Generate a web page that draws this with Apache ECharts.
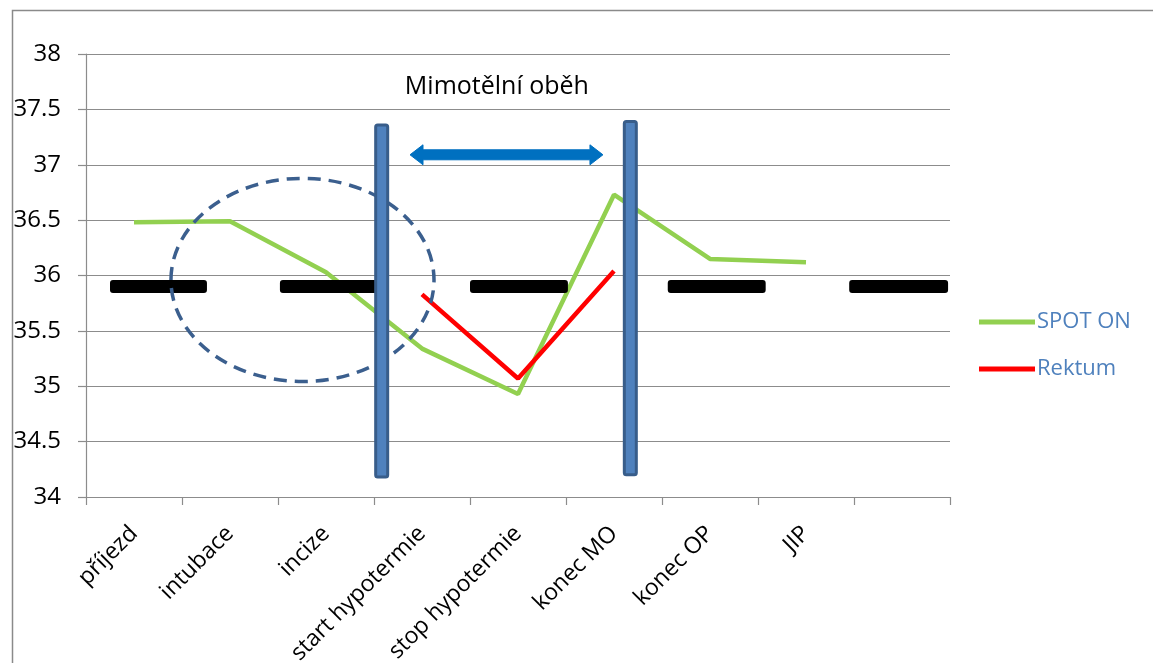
<!DOCTYPE html>
<html>
<head>
<meta charset="utf-8">
<script src="https://cdn.jsdelivr.net/npm/echarts@6/dist/echarts.min.js"></script>
<style>
  html, body { margin: 0; padding: 0; background: #fff; }
  #chart { width: 1153px; height: 663px; }
</style>
</head>
<body>
<div id="chart"></div>
<script>
// Time points of the procedure
const categories = ['příjezd', 'intubace', 'incize', 'start hypotermie', 'stop hypotermie', 'konec MO', 'konec OP', 'JIP', ''];

// Temperatures (°C)
const spotOn = [36.48, 36.49, 36.03, 35.34, 34.93, 36.73, 36.15, 36.12, null];
const rektum = [null, null, null, 35.83, 35.07, 36.04, null, null, null];

// Y axis range
const yMin = 34;
const yMax = 38;
const yStep = 0.5;

// Reference level segments, in category units [from, to]
const refLevel = 35.9;
const refSegments = [[0.25, 1.26], [2.02, 3.04], [4.0, 5.02], [6.06, 7.08], [7.95, 8.98]];

// Start / end of extracorporeal circulation markers [x, bottom, top]
const phaseMarkers = [[3.08, 34.18, 37.36], [5.67, 34.20, 37.39]];

// Span arrow [from, to, level] and its caption
const bypassSpan = [[3.375, 5.385, 37.09]];
const bypassCaption = [[4.28, 37.70, 'Mimotělní oběh']];

// Highlighted region [cx, cy, rx, ry]
const highlight = [[2.255, 35.96, 1.37, 0.917]];

const FONT = '"Open Sans", "Noto Sans", sans-serif';
const GRID_COLOR = '#8c8c8c';

const chart = echarts.init(document.getElementById('chart'), null, { renderer: 'canvas' });

const overlayAxis = { xAxisIndex: 1, yAxisIndex: 0 };

chart.setOption({
  animation: false,
  backgroundColor: '#fff',
  textStyle: { fontFamily: FONT },
  graphic: [{
    type: 'rect',
    left: 10, top: 8,
    shape: { width: 1200, height: 700 },
    style: { fill: 'none', stroke: '#8a8a8a', lineWidth: 1.5 },
    silent: true
  }],
  grid: { left: 86, right: 203, top: 54, bottom: 166, containLabel: false, outerBoundsMode: 'none' },
  legend: {
    orient: 'vertical',
    left: 979,
    top: 310,
    padding: 0,
    icon: 'rect',
    itemWidth: 56,
    itemHeight: 5,
    itemGap: 23,
    data: ['SPOT ON', 'Rektum'],
    textStyle: { color: '#4F81BD', fontSize: 22, lineHeight: 24, fontFamily: FONT, padding: [0, 0, 0, -3] }
  },
  xAxis: [{
    type: 'category',
    data: categories,
    boundaryGap: true,
    axisLine: { lineStyle: { color: GRID_COLOR, width: 1.2 } },
    axisTick: { show: true, length: 8, interval: 0, lineStyle: { color: GRID_COLOR, width: 1.2 } },
    axisLabel: { interval: 0, rotate: 45, fontSize: 23, color: '#000', margin: 33, fontFamily: FONT },
    splitLine: { show: false }
  }, {
    type: 'value',
    min: 0,
    max: categories.length,
    show: false
  }],
  yAxis: [{
    type: 'value',
    min: yMin,
    max: yMax,
    interval: yStep,
    axisLine: { show: true, lineStyle: { color: GRID_COLOR, width: 1.2 } },
    axisTick: { show: true, length: 8, lineStyle: { color: GRID_COLOR, width: 1.2 } },
    axisLabel: { fontSize: 24, color: '#000', margin: 25, fontFamily: FONT },
    splitLine: { lineStyle: { color: GRID_COLOR, width: 1.2 } }
  }],
  series: [
    {
      name: 'SPOT ON',
      type: 'line',
      data: spotOn,
      symbol: 'none',
      itemStyle: { color: '#92D050' },
      lineStyle: { color: '#92D050', width: 4.5 },
      z: 2
    },
    {
      name: 'Rektum',
      type: 'line',
      data: rektum,
      symbol: 'none',
      itemStyle: { color: '#FF0000' },
      lineStyle: { color: '#FF0000', width: 4.5 },
      z: 2
    },
    {
      // black reference bars
      type: 'custom',
      ...overlayAxis,
      z: 3,
      silent: true,
      data: refSegments.map(s => [s[0], s[1], refLevel]),
      encode: { x: [0, 1], y: 2 },
      renderItem: (params, api) => {
        const a = api.coord([api.value(0), api.value(2)]);
        const b = api.coord([api.value(1), api.value(2)]);
        return {
          type: 'rect',
          shape: { x: a[0], y: a[1] - 6.5, width: b[0] - a[0], height: 13, r: 3 },
          style: { fill: '#000' }
        };
      }
    },
    {
      // dashed highlight ellipse
      type: 'custom',
      ...overlayAxis,
      z: 4,
      silent: true,
      data: highlight,
      encode: { x: 0, y: 1 },
      renderItem: (params, api) => {
        const c = api.coord([api.value(0), api.value(1)]);
        const e = api.coord([api.value(0) + api.value(2), api.value(1) - api.value(3)]);
        return {
          type: 'ellipse',
          shape: { cx: c[0], cy: c[1], rx: e[0] - c[0], ry: e[1] - c[1] },
          style: { fill: 'none', stroke: '#3B5F8E', lineWidth: 3.5, lineDash: [13, 8] }
        };
      }
    },
    {
      // vertical phase markers
      type: 'custom',
      ...overlayAxis,
      z: 5,
      silent: true,
      data: phaseMarkers,
      encode: { x: 0, y: [1, 2] },
      renderItem: (params, api) => {
        const bot = api.coord([api.value(0), api.value(1)]);
        const top = api.coord([api.value(0), api.value(2)]);
        return {
          type: 'rect',
          shape: { x: bot[0] - 6, y: top[1], width: 12, height: bot[1] - top[1], r: 2 },
          style: { fill: '#4F81BD', stroke: '#385D8A', lineWidth: 3 }
        };
      }
    },
    {
      // double-headed span arrow
      type: 'custom',
      ...overlayAxis,
      z: 5,
      silent: true,
      data: bypassSpan,
      encode: { x: [0, 1], y: 2 },
      renderItem: (params, api) => {
        const a = api.coord([api.value(0), api.value(2)]);
        const b = api.coord([api.value(1), api.value(2)]);
        const y = a[1], x0 = a[0], x1 = b[0];
        const hl = 13, hh = 10, sh = 5;
        return {
          type: 'polygon',
          shape: {
            points: [
              [x0, y], [x0 + hl, y - hh], [x0 + hl, y - sh], [x1 - hl, y - sh], [x1 - hl, y - hh],
              [x1, y], [x1 - hl, y + hh], [x1 - hl, y + sh], [x0 + hl, y + sh], [x0 + hl, y + hh]
            ]
          },
          style: { fill: '#0070C0', stroke: '#0070C0', lineWidth: 1, lineJoin: 'round' }
        };
      }
    },
    {
      // caption above the arrow
      type: 'custom',
      ...overlayAxis,
      z: 5,
      silent: true,
      data: bypassCaption,
      encode: { x: 0, y: 1 },
      renderItem: (params, api) => {
        const p = api.coord([api.value(0), api.value(1)]);
        return {
          type: 'text',
          x: p[0], y: p[1],
          style: {
            text: bypassCaption[params.dataIndex][2],
            fill: '#000',
            font: '25px ' + FONT,
            align: 'center',
            verticalAlign: 'middle'
          }
        };
      }
    }
  ]
});
</script>
</body>
</html>
